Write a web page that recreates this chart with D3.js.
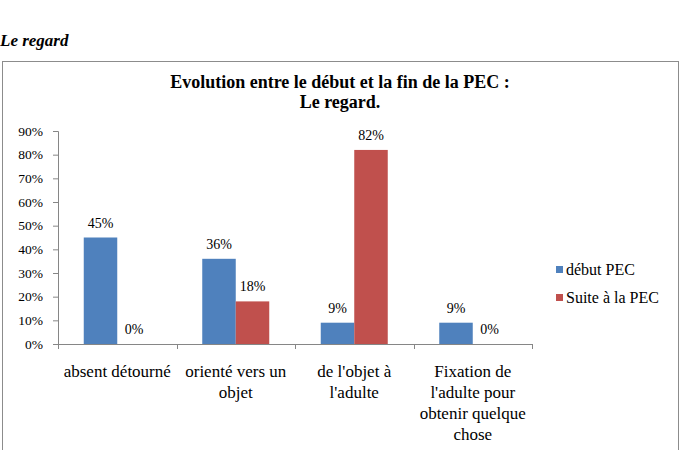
<!DOCTYPE html>
<html>
<head>
<meta charset="utf-8">
<script src="https://cdn.jsdelivr.net/npm/d3@7"></script>
<style>
  body { margin: 0; background: #fff; }
  svg text { font-family: "Liberation Serif", "Times New Roman", serif; fill: #000; }
</style>
</head>
<body>
<div id="container"></div>
<script>
const winw = 683, winh = 450;

// data
var categories = ["absent détourné", "orienté vers un objet", "de l'objet à l'adulte", "Fixation de l'adulte pour obtenir quelque chose"];
var catLines = [["absent détourné"], ["orienté vers un", "objet"], ["de l'objet à", "l'adulte"], ["Fixation de", "l'adulte pour", "obtenir quelque", "chose"]];
var seriesNames = ["début PEC", "Suite à la PEC"];
var debutPEC = [45, 36, 9, 9];
var suitePEC = [0, 18, 82, 0];
var yTicks = [0, 10, 20, 30, 40, 50, 60, 70, 80, 90];
var colors = ["#4F81BD", "#C0504D"];

var series = [debutPEC, suitePEC];
var margin = {top: 131, left: 58};
var width = 474, height = 213;
var serif = "Liberation Serif, Times New Roman, serif";

var svg = d3.select("#container").append("svg")
	.attr("width", winw)
	.attr("height", winh);

// page heading above the chart box
svg.append("text")
	.attr("x", 0)
	.attr("y", 46)
	.style("font-size", "17px")
	.style("font-weight", "bold")
	.style("font-style", "italic")
	.text("Le regard");

// chart frame
svg.append("rect")
	.attr("x", 2.5)
	.attr("y", 61.5)
	.attr("width", 676)
	.attr("height", 420)
	.attr("fill", "none")
	.attr("stroke", "#8c8c8c");

svg.append("text")
	.attr("x", 340)
	.attr("y", 88)
	.attr("text-anchor", "middle")
	.style("font-size", "18px")
	.style("font-weight", "bold")
	.text("Evolution entre le début et la fin de la PEC :");

svg.append("text")
	.attr("x", 340)
	.attr("y", 108)
	.attr("text-anchor", "middle")
	.style("font-size", "18px")
	.style("font-weight", "bold")
	.text("Le regard.");

var g = svg.append("g")
	.attr("transform", "translate(" + margin.left + "," + margin.top + ")");

var x0 = d3.scaleBand()
	.domain(categories)
	.range([0, width]);

var x1 = d3.scaleBand()
	.domain([0, 1])
	.range([0, 67]);

var y = d3.scaleLinear()
	.domain([0, 90])
	.range([height, 0]);

var padL = (x0.bandwidth() - 67) / 2;

// y axis
var yAxis = d3.axisLeft(y)
	.tickValues(yTicks)
	.tickSize(5)
	.tickPadding(10)
	.tickFormat(d => d + "%");

var gy = g.append("g")
	.call(yAxis)
	.attr("font-family", serif)
	.attr("font-size", 13.5);
gy.select(".domain").attr("stroke", "#868686");
gy.selectAll(".tick line").attr("stroke", "#868686");
gy.selectAll(".tick text").attr("fill", "#000");

// x axis line + boundary ticks
g.append("line")
	.attr("x1", 0).attr("x2", width)
	.attr("y1", height + 0.5).attr("y2", height + 0.5)
	.attr("stroke", "#868686");

var bounds = categories.map(c => x0(c)).concat([width]);
g.selectAll(".xtick")
	.data(bounds)
	.enter().append("line")
	.attr("x1", d => Math.round(d) + 0.5).attr("x2", d => Math.round(d) + 0.5)
	.attr("y1", height).attr("y2", height + 5)
	.attr("stroke", "#868686");

// bars
series.forEach(function(vals, s) {
	g.selectAll(".bar" + s)
		.data(vals)
		.enter().append("rect")
		.attr("x", (d, i) => x0(categories[i]) + padL + x1(s))
		.attr("width", x1.bandwidth())
		.attr("y", d => y(d))
		.attr("height", d => height - y(d))
		.attr("fill", colors[s]);

	g.selectAll(".lab" + s)
		.data(vals)
		.enter().append("text")
		.attr("x", (d, i) => x0(categories[i]) + padL + x1(s) + x1.bandwidth() / 2)
		.attr("y", d => y(d) - 10)
		.attr("text-anchor", "middle")
		.style("font-size", "14px")
		.text(d => d + "%");
});

// category labels
catLines.forEach(function(lines, i) {
	var t = g.append("text")
		.attr("text-anchor", "middle")
		.style("font-size", "17px");
	lines.forEach(function(l, k) {
		t.append("tspan")
			.attr("x", x0(categories[i]) + x0.bandwidth() / 2)
			.attr("y", height + 33 + k * 21)
			.text(l);
	});
});

// legend
var legend = svg.append("g")
	.attr("transform", "translate(556,266)");

seriesNames.forEach(function(n, i) {
	legend.append("rect")
		.attr("x", 0)
		.attr("y", i * 28)
		.attr("width", 7)
		.attr("height", 7)
		.attr("fill", colors[i]);
	legend.append("text")
		.attr("x", 10)
		.attr("y", i * 28 + 9)
		.style("font-size", "16px")
		.text(n);
});
</script>
</body>
</html>
